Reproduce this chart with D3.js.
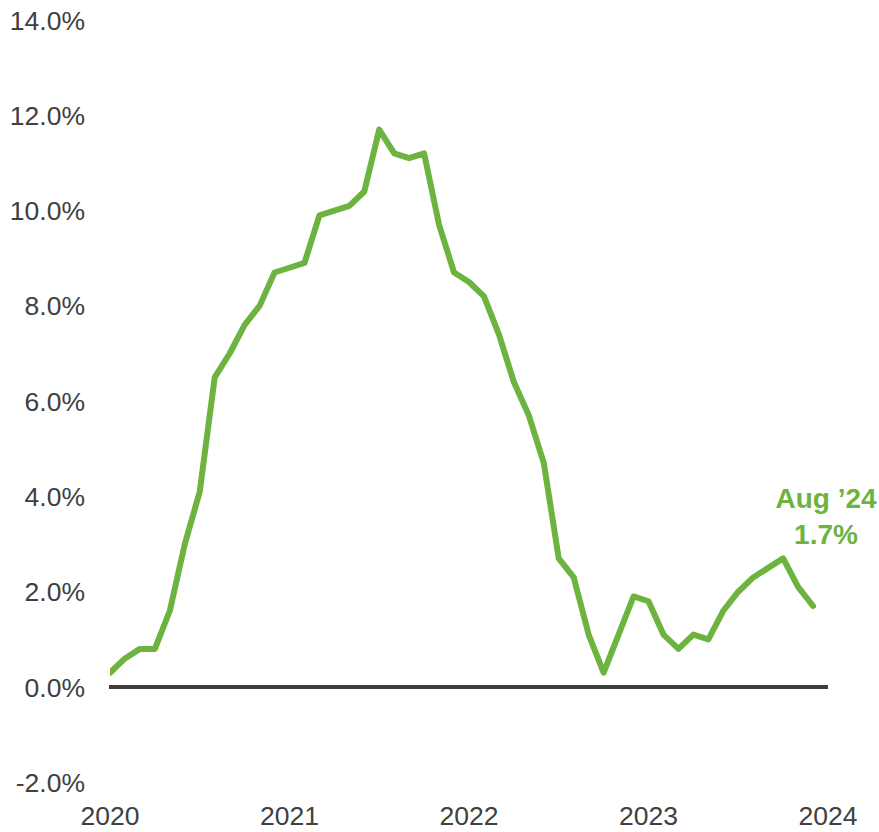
<!DOCTYPE html>
<html>
<head>
<meta charset="utf-8">
<script src="https://cdn.jsdelivr.net/npm/d3@7"></script>
<style>
  body { margin: 0; background: #fff; }
  svg text { font-family: "Liberation Sans", Arial, sans-serif; }
</style>
</head>
<body>
<script>
// Monthly values (percent)
const values = [
  0.3, 0.6, 0.8, 0.8, 1.6, 3.0, 4.1, 6.5, 7.0, 7.6, 8.0, 8.7,
  8.8, 8.9, 9.9, 10.0, 10.1, 10.4, 11.7, 11.2, 11.1, 11.2, 9.7, 8.7,
  8.5, 8.2, 7.4, 6.4, 5.7, 4.7, 2.7, 2.3, 1.1, 0.3, 1.1, 1.9,
  1.8, 1.1, 0.8, 1.1, 1.0, 1.6, 2.0, 2.3, 2.5, 2.7, 2.1, 1.7
];
const yearLabels = ["2020", "2021", "2022", "2023", "2024"];
const yTicks = [-2, 0, 2, 4, 6, 8, 10, 12, 14];
const annotation = ["Aug \u201924", "1.7%"];

const width = 879;
const height = 832;

const svg = d3.select("body")
  .append("svg")
  .attr("width", width)
  .attr("height", height);

// index of month -> x position
const x = d3.scaleLinear()
  .domain([0, 48])
  .range([110, 828]);

const y = d3.scaleLinear()
  .domain([0, 14])
  .range([687, 20]);

// y tick labels
svg.selectAll(".y-label")
  .data(yTicks)
  .enter()
  .append("text")
  .attr("class", "y-label")
  .attr("x", 85)
  .attr("y", d => y(d))
  .attr("dy", "0.36em")
  .attr("text-anchor", "end")
  .attr("fill", "#404040")
  .style("font-size", "26.5px")
  .text(d => d.toFixed(1) + "%");

// x year labels
svg.selectAll(".x-label")
  .data(yearLabels)
  .enter()
  .append("text")
  .attr("class", "x-label")
  .attr("x", (d, i) => x(i * 12))
  .attr("y", 825)
  .attr("text-anchor", "middle")
  .attr("fill", "#404040")
  .style("font-size", "26.5px")
  .text(d => d);

// zero line
svg.append("line")
  .attr("x1", x(0) - 1)
  .attr("x2", x(48))
  .attr("y1", y(0))
  .attr("y2", y(0))
  .attr("stroke", "#3d3d3d")
  .attr("stroke-width", 4);

// the series, clipped at the left edge like the original
svg.append("clipPath")
  .attr("id", "plot-clip")
  .append("rect")
  .attr("x", x(0))
  .attr("y", 0)
  .attr("width", width - x(0))
  .attr("height", height);

const line = d3.line()
  .x((d, i) => x(i))
  .y(d => y(d));

svg.append("path")
  .datum(values)
  .attr("d", line)
  .attr("clip-path", "url(#plot-clip)")
  .attr("fill", "none")
  .attr("stroke", "#6db33f")
  .attr("stroke-width", 6)
  .attr("stroke-linejoin", "round")
  .attr("stroke-linecap", "round");

// end label
svg.selectAll(".note")
  .data(annotation)
  .enter()
  .append("text")
  .attr("class", "note")
  .attr("x", 826)
  .attr("y", (d, i) => 508 + i * 36)
  .attr("text-anchor", "middle")
  .attr("fill", "#6db33f")
  .style("font-size", "28px")
  .style("font-weight", "bold")
  .text(d => d);
</script>
</body>
</html>
